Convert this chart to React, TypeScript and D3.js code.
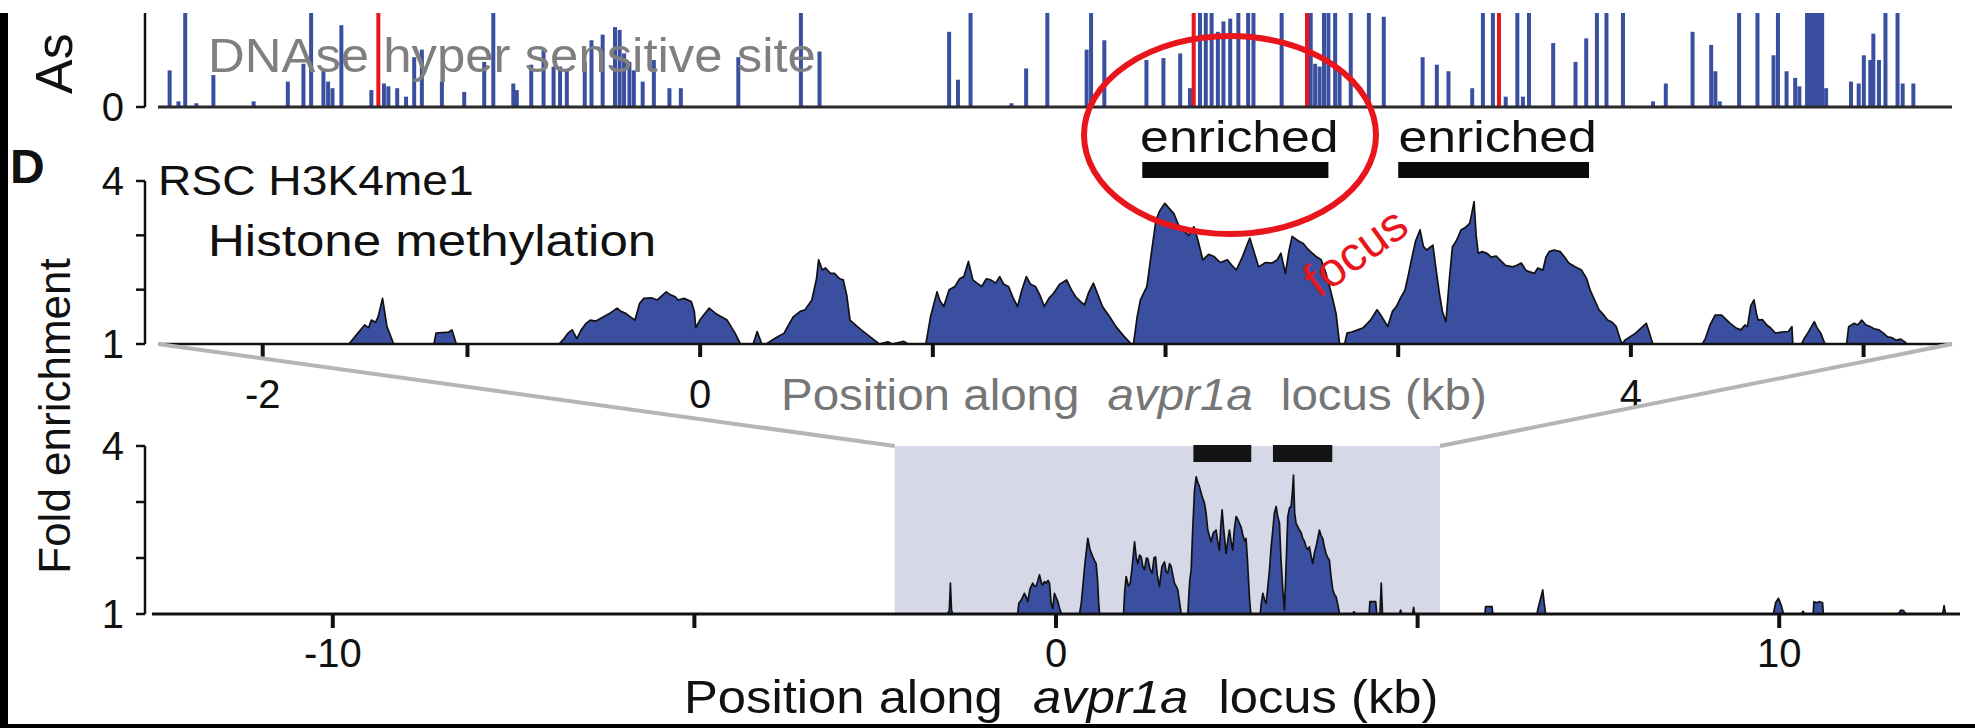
import React from "react";
import * as d3 from "d3";

const WIDTH = 1975;
const HEIGHT = 728;
const FONT = "'Liberation Sans', Arial, Helvetica, sans-serif";

// DNase I hypersensitivity track: bar positions (kb) and relative signal (1 = track ceiling)
const dnaseKb = [
  -2.28, -2.242, -2.213, -2.165, -2.092, -1.919, -1.772, -1.705, -1.672, -1.619, -1.599, -1.58, -1.542,
  -1.413, -1.359, -1.34, -1.302, -1.264, -1.229, -1.196, -1.11, -1.014, -0.928, -0.889, -0.803, -0.788,
  -0.726, -0.673, -0.63, -0.602, -0.573, -0.496, -0.467, -0.419, -0.366, -0.346, -0.327, -0.304, -0.285,
  -0.247, -0.199, -0.132, -0.083, 0.164, 0.433, 0.513, 1.07, 1.108, 1.162, 1.338, 1.401, 1.492, 1.661,
  1.68, 1.737, 1.918, 1.991, 2.063, 2.105, 2.148, 2.173, 2.198, 2.225, 2.249, 2.278, 2.313, 2.355, 2.378,
  2.499, 2.624, 2.643, 2.662, 2.681, 2.7, 2.729, 2.748, 2.796, 2.874, 2.938, 3.105, 3.166, 3.216, 3.318,
  3.364, 3.407, 3.462, 3.512, 3.536, 3.562, 3.666, 3.762, 3.808, 3.854, 3.895, 3.966, 4.095, 4.15, 4.265,
  4.345, 4.363, 4.382, 4.465, 4.544, 4.613, 4.632, 4.669, 4.706, 4.724, 4.757, 4.77, 4.783, 4.796, 4.809,
  4.822, 4.839, 4.946, 4.979, 5.001, 5.029, 5.042, 5.066, 5.094, 5.146, 5.168, 5.214,
];
const dnaseSignal = [
  0.39, 0.06, 1, 0.04, 0.34, 0.06, 0.27, 0.46, 1, 0.39, 0.27, 0.2, 0.87,
  0.18, 0.25, 0.22, 0.2, 0.11, 0.53, 0.61, 0.27, 0.16, 0.48, 1, 0.25, 0.18,
  0.45, 0.62, 0.43, 0.43, 0.39, 0.48, 0.71, 0.77, 0.85, 0.82, 0.57, 0.48, 0.39,
  0.27, 0.5, 0.2, 0.2, 0.53, 1, 0.59, 0.8, 0.29, 1, 0.04, 0.41, 1, 0.61,
  1, 0.71, 0.5, 0.52, 0.57, 0.2, 1, 1, 1, 0.8, 0.91, 0.94, 1, 1, 1,
  1, 1, 0.46, 0.43, 1, 1, 1, 0.38, 1, 1, 0.96, 0.53, 0.45, 0.38, 0.2,
  1, 1, 0.11, 1, 0.11, 1, 0.68, 0.48, 0.73, 1, 1, 1, 0.06, 0.25, 0.8,
  0.66, 0.38, 0.06, 1, 1, 0.55, 1, 0.38, 0.31, 0.22, 1, 1, 1, 1, 1,
  1, 0.2, 0.27, 0.25, 0.55, 0.5, 0.78, 0.5, 1, 1, 0.25, 0.25,
];
const dnaseHighlightKb = [-1.383, 2.121, 2.608, 3.433];

// H3K4me1 fold enrichment, close-up window: [kb, fold]
const closeProfile: [number, number][] = [
  [-2.33, 1], [-1.509, 1], [-1.49, 1.1], [-1.471, 1.2], [-1.442, 1.35], [-1.425, 1.3], [-1.413, 1.44], [-1.395, 1.4],
  [-1.384, 1.5], [-1.365, 1.84], [-1.346, 1.32], [-1.317, 1],
  [-1.144, 1], [-1.135, 1.2], [-1.08, 1.22], [-1.067, 1.26], [-1.048, 1],
  [-0.606, 1], [-0.585, 1.1], [-0.568, 1.2], [-0.55, 1.26], [-0.53, 1.1], [-0.511, 1.26], [-0.49, 1.38],
  [-0.472, 1.44], [-0.45, 1.42], [-0.415, 1.5], [-0.39, 1.56], [-0.357, 1.66], [-0.34, 1.6], [-0.318, 1.56],
  [-0.3, 1.5], [-0.28, 1.44], [-0.26, 1.75], [-0.242, 1.84], [-0.21, 1.85], [-0.184, 1.81], [-0.146, 1.96],
  [-0.125, 1.9], [-0.107, 1.87], [-0.095, 1.81], [-0.069, 1.84], [-0.038, 1.78], [-0.025, 1.6], [-0.019, 1.3],
  [0.0, 1.45], [0.039, 1.66], [0.07, 1.55], [0.116, 1.44], [0.15, 1.2], [0.173, 1],
  [0.228, 1], [0.245, 1.23], [0.265, 1],
  [0.284, 1], [0.32, 1.1], [0.361, 1.2], [0.38, 1.35], [0.4, 1.5], [0.43, 1.6], [0.451, 1.63], [0.48, 1.81],
  [0.5, 2.2], [0.509, 2.55], [0.525, 2.36], [0.538, 2.4], [0.56, 2.3], [0.577, 2.3], [0.6, 2.2], [0.615, 2.18],
  [0.63, 1.9], [0.644, 1.44], [0.692, 1.26], [0.749, 1.07], [0.769, 1],
  [0.807, 1.04], [0.826, 1], [0.874, 1.05], [0.893, 1],
  [0.97, 1], [0.99, 1.5], [1.018, 1.96], [1.03, 1.8], [1.047, 1.69], [1.07, 2.0], [1.095, 2.06], [1.115, 2.2],
  [1.133, 2.24], [1.153, 2.52], [1.172, 2.18], [1.19, 2.12], [1.21, 2.06], [1.23, 2.2], [1.249, 2.18],
  [1.27, 2.12], [1.287, 2.24], [1.305, 2.1], [1.325, 2.06], [1.345, 1.85], [1.364, 1.69], [1.383, 2.0],
  [1.402, 2.24], [1.42, 2.1], [1.441, 2.06], [1.46, 1.9], [1.479, 1.69], [1.5, 1.85], [1.518, 1.93],
  [1.545, 2.1], [1.575, 2.18], [1.595, 2.0], [1.614, 1.87], [1.635, 1.78], [1.652, 1.72], [1.67, 1.95],
  [1.69, 2.12], [1.71, 1.9], [1.729, 1.69], [1.76, 1.5], [1.787, 1.32], [1.82, 1.15], [1.844, 1.04], [1.854, 1],
  [1.863, 1.02], [1.878, 1.5], [1.892, 1.81], [1.92, 2.06], [1.94, 2.7], [1.959, 3.28], [1.975, 3.45],
  [1.997, 3.59], [2.015, 3.5], [2.036, 3.4], [2.055, 3.2], [2.074, 3.1], [2.1, 3.0], [2.122, 3.16], [2.14, 2.9],
  [2.16, 2.55], [2.185, 2.65], [2.209, 2.61], [2.235, 2.5], [2.266, 2.55], [2.285, 2.45], [2.304, 2.36],
  [2.33, 2.6], [2.362, 2.95], [2.38, 2.7], [2.4, 2.42], [2.43, 2.5], [2.458, 2.49], [2.48, 2.55], [2.496, 2.67],
  [2.515, 2.3], [2.53, 2.7], [2.544, 2.98], [2.57, 2.9], [2.592, 2.85], [2.611, 2.75], [2.631, 2.67],
  [2.65, 2.6], [2.669, 2.55], [2.69, 2.3], [2.705, 2.06], [2.72, 1.8], [2.733, 1.56], [2.748, 1],
  [2.77, 1], [2.78, 1.2], [2.8, 1.22], [2.826, 1.26], [2.85, 1.3], [2.881, 1.44], [2.909, 1.63], [2.93, 1.5],
  [2.955, 1.32], [2.975, 1.6], [2.992, 1.69], [3.01, 1.85], [3.029, 1.99], [3.045, 2.3], [3.057, 2.55],
  [3.075, 2.9], [3.094, 3.1], [3.108, 2.8], [3.122, 2.73], [3.149, 2.82], [3.165, 2.3], [3.177, 1.93],
  [3.19, 1.6], [3.205, 1.41], [3.22, 2.2], [3.233, 2.79], [3.25, 2.9], [3.27, 3.1], [3.29, 3.15], [3.307, 3.22],
  [3.316, 3.4], [3.326, 3.62], [3.335, 3.0], [3.344, 2.67], [3.36, 2.7], [3.381, 2.67], [3.4, 2.6],
  [3.42, 2.62], [3.437, 2.55], [3.46, 2.45], [3.492, 2.42], [3.51, 2.45], [3.529, 2.49], [3.55, 2.35],
  [3.585, 2.3], [3.6, 2.4], [3.622, 2.36], [3.635, 2.6], [3.649, 2.7], [3.67, 2.73], [3.696, 2.7], [3.715, 2.6],
  [3.733, 2.49], [3.76, 2.42], [3.788, 2.36], [3.81, 2.2], [3.825, 1.99], [3.845, 1.8], [3.863, 1.63],
  [3.88, 1.55], [3.9, 1.44], [3.92, 1.4], [3.937, 1.32], [3.955, 1.07], [3.964, 1],
  [3.974, 1.07], [4.02, 1.2], [4.066, 1.38], [4.08, 1.2], [4.094, 1],
  [4.307, 1], [4.32, 1.1], [4.34, 1.35], [4.362, 1.53], [4.39, 1.53], [4.41, 1.45], [4.427, 1.38], [4.45, 1.3],
  [4.473, 1.26], [4.49, 1.35], [4.501, 1.32], [4.515, 1.7], [4.529, 1.81], [4.54, 1.55], [4.547, 1.44],
  [4.565, 1.45], [4.584, 1.35], [4.6, 1.3], [4.621, 1.2], [4.65, 1.22], [4.677, 1.23], [4.692, 1.32], [4.696, 1],
  [4.733, 1], [4.745, 1.1], [4.76, 1.2], [4.788, 1.41], [4.8, 1.3], [4.816, 1.2], [4.834, 1],
  [4.927, 1], [4.936, 1.32], [4.96, 1.38], [4.975, 1.35], [4.992, 1.44], [5.01, 1.35], [5.029, 1.32],
  [5.045, 1.28], [5.066, 1.26], [5.085, 1.2], [5.103, 1.13], [5.12, 1.12], [5.14, 1.07], [5.16, 1.09],
  [5.177, 1.04], [5.186, 1], [5.38, 1],
];

// H3K4me1 fold enrichment, wide view: [kb, fold]
const wideProfile: [number, number][] = [
  [-12.5, 1], [-1.5, 1], [-1.475, 1.07], [-1.46, 1.55], [-1.445, 1.07], [-1.43, 1],
  [-0.53, 1], [-0.514, 1.19], [-0.48, 1.25], [-0.437, 1.37], [-0.41, 1.3], [-0.39, 1.22], [-0.36, 1.45],
  [-0.321, 1.55], [-0.3, 1.5], [-0.275, 1.49], [-0.25, 1.6], [-0.229, 1.7], [-0.2, 1.55], [-0.183, 1.52],
  [-0.16, 1.58], [-0.136, 1.55], [-0.11, 1.6], [-0.09, 1.55], [-0.067, 1.19], [-0.045, 1.1], [-0.021, 1.37],
  [0.0, 1.3], [0.025, 1.22], [0.05, 1.1], [0.071, 1.02], [0.08, 1],
  [0.325, 1], [0.35, 1.2], [0.371, 1.49], [0.4, 1.9], [0.44, 2.35], [0.47, 2.15], [0.509, 2.02], [0.535, 1.95],
  [0.555, 1.9], [0.575, 1.6], [0.59, 1.2], [0.602, 1.01], [0.61, 1],
  [0.934, 1], [0.95, 1.4], [0.97, 1.67], [1.0, 1.5], [1.026, 1.55], [1.05, 1.8], [1.086, 2.29], [1.11, 2.0],
  [1.132, 1.9], [1.155, 2.05], [1.178, 2.02], [1.2, 1.85], [1.224, 1.79], [1.25, 2.0], [1.27, 1.99], [1.3, 1.8],
  [1.33, 1.73], [1.355, 2.0], [1.376, 2.02], [1.4, 1.7], [1.431, 1.49], [1.465, 1.85], [1.5, 1.93], [1.525, 1.75],
  [1.546, 1.73], [1.57, 1.9], [1.592, 1.85], [1.615, 1.7], [1.638, 1.55], [1.66, 1.5], [1.684, 1.43], [1.71, 1.2],
  [1.73, 1.01], [1.74, 1],
  [1.823, 1], [1.835, 1.3], [1.85, 1.6], [1.869, 1.79], [1.89, 2.5], [1.915, 3.2], [1.938, 3.45], [1.96, 3.35],
  [1.984, 3.27], [2.02, 3.1], [2.053, 2.98], [2.075, 2.8], [2.099, 2.5], [2.12, 2.4], [2.145, 2.29], [2.175, 2.45],
  [2.214, 2.5], [2.235, 2.3], [2.26, 2.14], [2.28, 2.6], [2.297, 2.86], [2.32, 2.5], [2.352, 2.08], [2.375, 2.3],
  [2.398, 2.5], [2.42, 2.3], [2.444, 2.14], [2.465, 2.5], [2.49, 2.74], [2.51, 2.7], [2.536, 2.62], [2.56, 2.55],
  [2.582, 2.42], [2.61, 2.3], [2.628, 2.35], [2.65, 1.9], [2.674, 1.31], [2.69, 1.05], [2.697, 1],
  [2.824, 1], [2.84, 1.2], [2.86, 1.37], [2.885, 1.25], [2.906, 1.19], [2.93, 1.5], [2.952, 1.79], [2.975, 2.2],
  [2.998, 2.5], [3.02, 2.8], [3.044, 2.92], [3.065, 2.75], [3.09, 2.62], [3.11, 2.0], [3.136, 1.43], [3.159, 1.07],
  [3.18, 1.8], [3.205, 2.74], [3.23, 2.9], [3.251, 2.92], [3.27, 3.2], [3.284, 3.48], [3.3, 2.8], [3.32, 2.62],
  [3.366, 2.5], [3.39, 2.45], [3.412, 2.35], [3.435, 2.3], [3.458, 2.2], [3.48, 2.15], [3.504, 2.2], [3.525, 2.05],
  [3.55, 1.9], [3.575, 2.1], [3.596, 2.2], [3.62, 2.35], [3.642, 2.5], [3.665, 2.4], [3.688, 2.35], [3.71, 2.2],
  [3.734, 2.08], [3.76, 2.0], [3.781, 1.96], [3.8, 1.7], [3.827, 1.43], [3.85, 1.35], [3.873, 1.31], [3.9, 1.15],
  [3.919, 1.01], [3.93, 1],
  [4.1, 1], [4.12, 1.04], [4.14, 1], [4.33, 1], [4.34, 1.22], [4.42, 1.22], [4.435, 1], [4.48, 1], [4.497, 1.55],
  [4.515, 1], [4.75, 1], [4.765, 1.07], [4.78, 1], [4.93, 1], [4.945, 1.12], [4.96, 1],
  [5.93, 1], [5.94, 1.13], [6.03, 1.13], [6.04, 1],
  [6.65, 1], [6.67, 1.12], [6.71, 1.32], [6.73, 1.43], [6.75, 1.2], [6.77, 1],
  [9.92, 1], [9.95, 1.2], [9.99, 1.28], [10.03, 1.15], [10.06, 1],
  [10.31, 1], [10.33, 1.05], [10.35, 1],
  [10.47, 1], [10.48, 1.22], [10.52, 1.2], [10.55, 1.22], [10.6, 1.2], [10.61, 1],
  [11.65, 1], [11.68, 1.07], [11.72, 1.06], [11.75, 1],
  [12.26, 1], [12.28, 1.15], [12.3, 1], [12.5, 1],
];

// Enriched intervals (kb) and the close-up window shown in the wide view
const enrichedKb: [number, number][] = [[1.9, 2.7], [3.0, 3.82]];
const closeDomainKb: [number, number] = [-2.33, 5.38];
const windowKb: [number, number] = [-2.23, 5.31];

// Axis ticks
const closeTicks = [-1.88, -1, 0, 1, 2, 3, 4, 5];
const closeTickLabels = ["-2", "", "0", "", "", "", "4", ""];
const wideTicks = [-10, -5, 0, 5, 10];
const wideTickLabels = ["-10", "", "0", "", "10"];
const foldTicks = [1, 2, 3, 4];
const foldTickLabels = ["1", "", "", "4"];

const BLUE = "#3a4f9f";
const RED = "#e8161c";

type LabelProps = {
  x: number;
  y: number;
  size: number;
  sx?: number;
  anchor?: "start" | "middle" | "end";
  fill?: string;
  weight?: string | number;
  rotate?: number;
  children: React.ReactNode;
};

function Label({ x, y, size, sx = 1, anchor = "start", fill = "#111", weight, rotate, children }: LabelProps) {
  const t = `translate(${x},${y}) scale(${sx},1)` + (rotate ? ` rotate(${rotate})` : "");
  return (
    <text transform={t} fontSize={size} textAnchor={anchor} fill={fill} fontWeight={weight} fontFamily={FONT}>
      {children}
    </text>
  );
}

export default function App() {
  const axisX = 145;

  const xClose = d3.scaleLinear().domain(closeDomainKb).range([158, 1952]);
  const xWide = d3.scaleLinear().domain([-12.5, 12.5]).range([152, 1960]);
  const yTrack = d3.scaleLinear().domain([0, 1]).range([107, 13]);
  const yClose = d3.scaleLinear().domain([1, 4]).range([344, 181]);
  const yWide = d3.scaleLinear().domain([1, 4]).range([614, 446]);

  const closeArea = d3
    .area<[number, number]>()
    .x((d) => xClose(d[0]))
    .y0(yClose(1))
    .y1((d) => yClose(d[1]));
  const closeLine = d3
    .line<[number, number]>()
    .x((d) => xClose(d[0]))
    .y((d) => yClose(d[1]));
  const wideArea = d3
    .area<[number, number]>()
    .x((d) => xWide(d[0]))
    .y0(yWide(1))
    .y1((d) => yWide(d[1]));
  const wideLine = d3
    .line<[number, number]>()
    .x((d) => xWide(d[0]))
    .y((d) => yWide(d[1]));

  const tickFont = 40;
  const barW = 4;

  return (
    <svg
      width={WIDTH}
      height={HEIGHT}
      viewBox={`0 0 ${WIDTH} ${HEIGHT}`}
      style={{ position: "absolute", left: 0, top: 0, background: "#fff" }}
    >
      <defs>
        <clipPath id="frame">
          <rect x={0} y={13} width={WIDTH} height={HEIGHT - 13} />
        </clipPath>
      </defs>
      <rect x={0} y={0} width={WIDTH} height={HEIGHT} fill="#fff" />
      <g clipPath="url(#frame)">
        {/* DNase track */}
        {dnaseKb.map((k, i) => (
          <rect
            key={`d${i}`}
            x={xClose(k) - barW / 2}
            y={yTrack(dnaseSignal[i])}
            width={barW}
            height={yTrack(0) - yTrack(dnaseSignal[i])}
            fill={BLUE}
          />
        ))}
        {dnaseHighlightKb.map((k, i) => (
          <rect key={`r${i}`} x={xClose(k) - barW / 2} y={yTrack(1.2)} width={barW} height={yTrack(0) - yTrack(1.2)} fill={RED} />
        ))}
        <line x1={xClose(closeDomainKb[0])} x2={xClose(closeDomainKb[1])} y1={yTrack(0)} y2={yTrack(0)} stroke="#2a2a2a" strokeWidth={3} />
        <line x1={axisX} x2={axisX} y1={yTrack(1.2)} y2={yTrack(0)} stroke="#111" strokeWidth={2.5} />
        <line x1={axisX - 9} x2={axisX} y1={yTrack(0)} y2={yTrack(0)} stroke="#111" strokeWidth={2.5} />
        <Label x={124} y={yTrack(0) + 14} size={tickFont} anchor="end">0</Label>
        <Label x={72} y={94} size={52} rotate={-90}>As</Label>
        <Label x={208} y={72} size={48} sx={1.06} fill="#7f7f7f">DNAse hyper sensitive site</Label>

        {/* Close-up panel */}
        <Label x={10} y={183} size={48} weight="bold">D</Label>
        <Label x={158} y={195} size={42} sx={1.1}>RSC H3K4me1</Label>
        <Label x={208} y={256} size={44} sx={1.16}>Histone methylation</Label>
        <path d={closeArea(closeProfile) ?? ""} fill={BLUE} />
        <path d={closeLine(closeProfile) ?? ""} fill="none" stroke="#111" strokeWidth={1.7} strokeLinejoin="round" />
        <line x1={xClose(closeDomainKb[0])} x2={xClose(closeDomainKb[1])} y1={yClose(1)} y2={yClose(1)} stroke="#111" strokeWidth={2.5} />
        <line x1={axisX} x2={axisX} y1={yClose(4)} y2={yClose(1)} stroke="#111" strokeWidth={2.5} />
        {foldTicks.map((t, i) => (
          <g key={`cy${i}`}>
            <line x1={axisX - 9} x2={axisX} y1={yClose(t)} y2={yClose(t)} stroke="#111" strokeWidth={2.5} />
            {foldTickLabels[i] && (
              <Label x={124} y={yClose(t) + 14} size={tickFont} anchor="end">{foldTickLabels[i]}</Label>
            )}
          </g>
        ))}
        {closeTicks.map((t, i) => (
          <g key={`cx${i}`}>
            <line x1={xClose(t)} x2={xClose(t)} y1={yClose(1)} y2={yClose(1) + 13} stroke="#111" strokeWidth={4} />
            {closeTickLabels[i] && (
              <Label x={xClose(t)} y={yClose(1) + 64} size={tickFont} anchor="middle">{closeTickLabels[i]}</Label>
            )}
          </g>
        ))}
        <text transform={`translate(781,410) scale(1.08,1)`} fontSize={44} fill="#767676" fontFamily={FONT}>
          Position along
          <tspan dx={26} fontStyle="italic">avpr1a</tspan>
          <tspan dx={26}>locus (kb)</tspan>
        </text>
        {enrichedKb.map(([a, b], i) => (
          <g key={`ce${i}`}>
            <rect x={xClose(a)} y={162} width={xClose(b) - xClose(a)} height={16} fill="#0a0a0a" />
            <Label x={(xClose(a) + xClose(b)) / 2 + 4} y={152} size={45} sx={1.15} anchor="middle">enriched</Label>
          </g>
        ))}

        {/* Wide panel */}
        <rect
          x={xWide(windowKb[0])}
          y={yWide(4)}
          width={xWide(windowKb[1]) - xWide(windowKb[0])}
          height={yWide(1) - yWide(4)}
          fill="#d6d8e8"
        />
        <line x1={xClose(closeDomainKb[0])} y1={yClose(1)} x2={xWide(windowKb[0])} y2={yWide(4)} stroke="#b5b5b5" strokeWidth={4} />
        <line x1={xClose(closeDomainKb[1])} y1={yClose(1)} x2={xWide(windowKb[1])} y2={yWide(4)} stroke="#b5b5b5" strokeWidth={4} />
        <path d={wideArea(wideProfile) ?? ""} fill={BLUE} />
        <path d={wideLine(wideProfile) ?? ""} fill="none" stroke="#111" strokeWidth={1.7} strokeLinejoin="round" />
        {enrichedKb.map(([a, b], i) => (
          <rect key={`we${i}`} x={xWide(a)} y={yWide(4) - 1} width={xWide(b) - xWide(a)} height={17} fill="#141414" />
        ))}
        <line x1={xWide(-12.5)} x2={xWide(12.5)} y1={yWide(1)} y2={yWide(1)} stroke="#111" strokeWidth={3} />
        <line x1={axisX} x2={axisX} y1={yWide(4)} y2={yWide(1)} stroke="#111" strokeWidth={2.5} />
        {foldTicks.map((t, i) => (
          <g key={`wy${i}`}>
            <line x1={axisX - 9} x2={axisX} y1={yWide(t)} y2={yWide(t)} stroke="#111" strokeWidth={2.5} />
            {foldTickLabels[i] && (
              <Label x={124} y={yWide(t) + 14} size={tickFont} anchor="end">{foldTickLabels[i]}</Label>
            )}
          </g>
        ))}
        {wideTicks.map((t, i) => (
          <g key={`wx${i}`}>
            <line x1={xWide(t)} x2={xWide(t)} y1={yWide(1)} y2={yWide(1) + 14} stroke="#111" strokeWidth={4} />
            {wideTickLabels[i] && (
              <Label x={xWide(t)} y={yWide(1) + 53} size={tickFont} anchor="middle">{wideTickLabels[i]}</Label>
            )}
          </g>
        ))}
        <text transform={`translate(684,713) scale(1.08,1)`} fontSize={47} fill="#111" fontFamily={FONT}>
          Position along
          <tspan dx={28} fontStyle="italic">avpr1a</tspan>
          <tspan dx={28}>locus (kb)</tspan>
        </text>
        <Label x={70} y={416} size={44} rotate={-90} anchor="middle">Fold enrichment</Label>

        {/* Annotations */}
        <ellipse cx={1230} cy={135} rx={146} ry={99} fill="none" stroke={RED} strokeWidth={6} />
        <Label x={1365} y={265} size={48} fill={RED} rotate={-36} anchor="middle">focus</Label>

        {/* Frame */}
        <rect x={0} y={13} width={8} height={HEIGHT - 13} fill="#000" />
        <rect x={0} y={HEIGHT - 4} width={WIDTH} height={4} fill="#000" />
      </g>
    </svg>
  );
}
